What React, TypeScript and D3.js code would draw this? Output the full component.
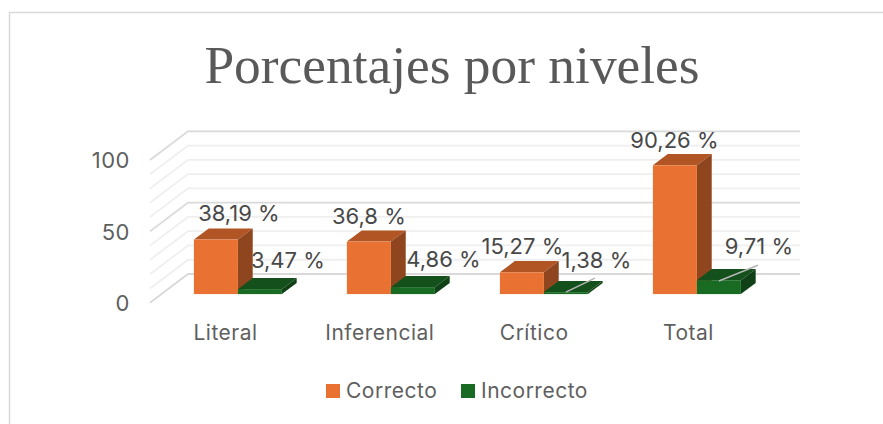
import * as d3 from 'd3'

const categories = ['Literal', 'Inferencial', 'Crítico', 'Total']
const seriesNames = ['Correcto', 'Incorrecto']
const correcto = [38.19, 36.8, 15.27, 90.26]
const incorrecto = [3.47, 4.86, 1.38, 9.71]
const correctoLabels = ['38,19 %', '36,8 %', '15,27 %', '90,26 %']
const incorrectoLabels = ['3,47 %', '4,86 %', '1,38 %', '9,71 %']
const yTicks = [0, 50, 100]
const gridValues = [0, 10, 20, 30, 40, 50, 60, 70, 80, 90, 100]

const colors = [
  { front: '#E97132', top: '#B25525', side: '#8F451E' },
  { front: '#196B24', top: '#13501B', side: '#0F4016' },
]

// 3d projection of the plot box
const depthX = 38
const depthY = 28.7
const barDepthStart = 0.3
const barDepthEnd = 0.69

const x = d3.scaleBand().domain(categories).range([150, 762]).paddingInner(0.425).paddingOuter(0.2125)
const y = d3.scaleLinear().domain([0, 100]).range([302.7, 160])
const xLabel = d3.scalePoint().domain(categories).range([225.5, 688.5])

const px = (v: number, depth: number) => v + depthX * depth
const py = (v: number, depth: number) => y(v) - depthY * depth

// data labels sit where the original chart had them dragged, as shift from bar front-top-centre
const labelShift = [
  [[23, -18.5], [28, -20.7]],
  [[0, -17.5], [30.5, -20.5]],
  [[0.5, -18], [30.5, -24.5]],
  [[-0.5, -17], [40, -26.5]],
]
const leaders: (number[] | null)[] = [null, null, [0, 0, 29, -14], [0, 0.7, 39, -15]]

function Bar({ xPos, width, value, c }: { xPos: number; width: number; value: number; c: typeof colors[0] }) {
  const a = px(xPos, barDepthStart)
  const b = px(xPos + width, barDepthStart)
  const a2 = px(xPos, barDepthEnd)
  const b2 = px(xPos + width, barDepthEnd)
  const t = py(value, barDepthStart)
  const t2 = py(value, barDepthEnd)
  const f = py(0, barDepthStart)
  const f2 = py(0, barDepthEnd)
  return (
    <g>
      <path d={`M${a},${t}L${a2},${t2}L${b2},${t2}L${b},${t}Z`} fill={c.top} />
      <path d={`M${b},${t}L${b2},${t2}L${b2},${f2}L${b},${f}Z`} fill={c.side} />
      <rect x={a} y={t} width={b - a} height={f - t} fill={c.front} />
    </g>
  )
}

export default function App() {
  const barW = x.bandwidth() / 2
  const font = 'Inter, "Noto Sans", sans-serif'
  const labelStyle = { fontFamily: font, fontSize: 22, letterSpacing: 0, fill: '#484848' }
  const axisStyle = { fontFamily: font, fontSize: 21, letterSpacing: 0.5, fill: '#5F5F5F' }
  return (
    <svg width={883} height={424} style={{ position: 'absolute', left: 0, top: 0, background: '#fff' }}>
      <path d="M9.5,424V12.5H883" fill="none" stroke="#D9D9D9" strokeWidth={1.5} />
      <text x={452} y={82.5} textAnchor="middle" fontFamily='"Liberation Serif", serif' fontSize={53.4} fill="#595959">
        Porcentajes por niveles
      </text>

      {gridValues.map(v => {
        const major = yTicks.includes(v)
        return (
          <path
            key={v}
            d={`M${px(150, 0)},${py(v, 0)}L${px(150, 1)},${py(v, 1)}H800`}
            fill="none"
            stroke={major ? '#D9D9D9' : '#EFEFEF'}
            strokeWidth={1.8}
          />
        )
      })}

      {yTicks.map(v => (
        <text key={v} x={130} y={y(v) + 0.5} dy="0.35em" textAnchor="end" {...axisStyle} fontSize={22}>
          {v}
        </text>
      ))}

      {categories.map((cat, i) => {
        const x0 = x(cat) as number
        const leader = leaders[i]
        const lx = px(x0 + barW * 1.5, barDepthStart)
        const ly = py(incorrecto[i], barDepthStart)
        return (
          <g key={cat}>
            <Bar xPos={x0} width={barW} value={correcto[i]} c={colors[0]} />
            <Bar xPos={x0 + barW} width={barW} value={incorrecto[i]} c={colors[1]} />
            {leader && (
              <line x1={lx + leader[0]} y1={ly + leader[1]} x2={lx + leader[2]} y2={ly + leader[3]} stroke="#B5B5B5" strokeWidth={1.5} />
            )}
            <text
              x={px(x0 + barW / 2, barDepthStart) + labelShift[i][0][0]}
              y={py(correcto[i], barDepthStart) + labelShift[i][0][1]}
              textAnchor="middle"
              {...labelStyle}
            >
              {correctoLabels[i]}
            </text>
            <text x={lx + labelShift[i][1][0]} y={ly + labelShift[i][1][1]} textAnchor="middle" {...labelStyle}>
              {incorrectoLabels[i]}
            </text>
            <text x={xLabel(cat)} y={333} dy="0.35em" textAnchor="middle" {...axisStyle}>
              {cat}
            </text>
          </g>
        )
      })}

      {seriesNames.map((name, i) => {
        const lx = [326, 461][i]
        return (
          <g key={name}>
            <rect x={lx} y={384} width={14} height={14} fill={colors[i].front} />
            <text x={lx + 20} y={391} dy="0.35em" {...axisStyle}>
              {name}
            </text>
          </g>
        )
      })}
    </svg>
  )
}
